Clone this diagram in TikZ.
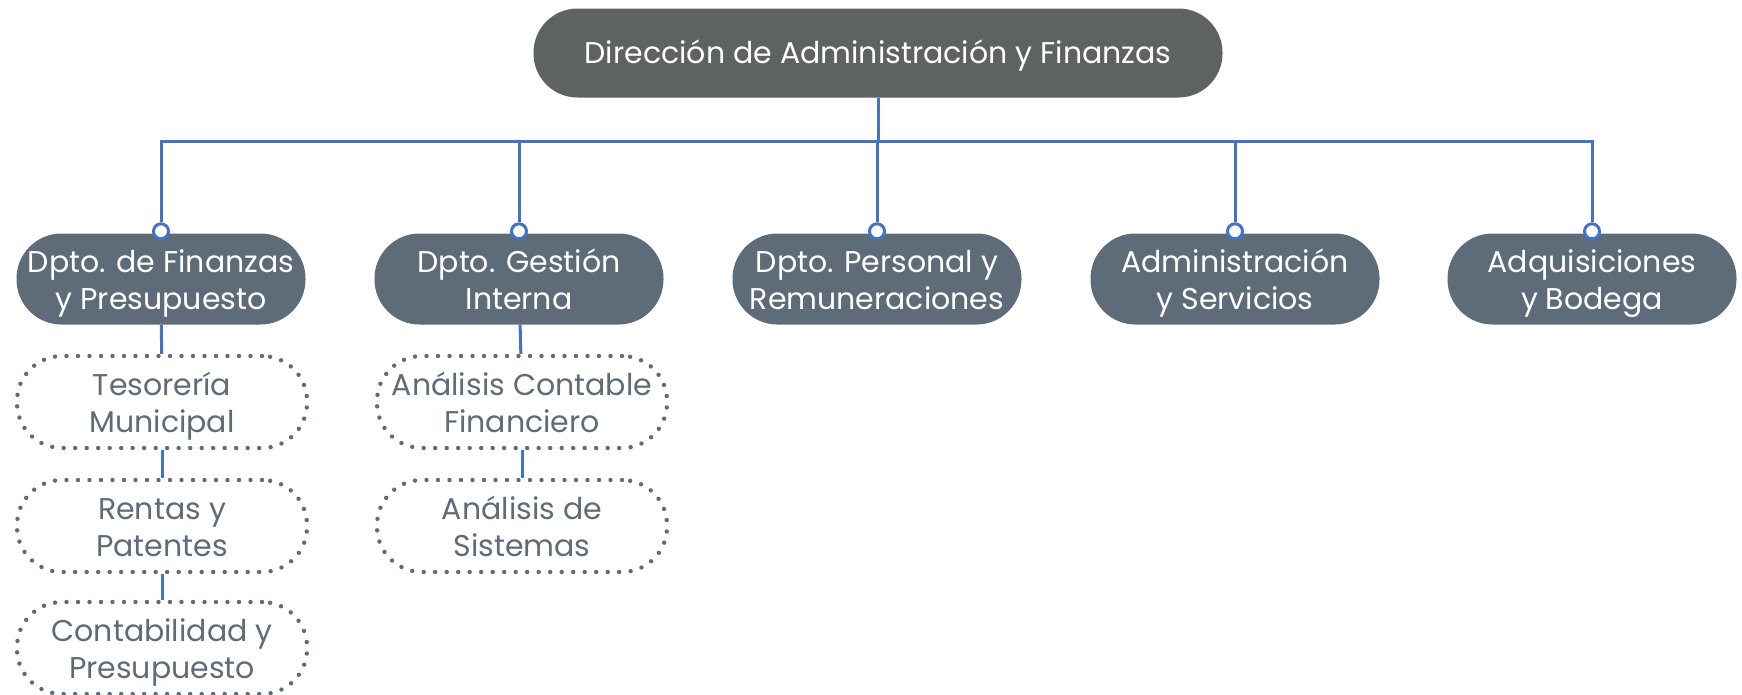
\documentclass[tikz,border=0pt]{standalone}
\usepackage{fontspec}
\setmainfont{Poppins}
\usetikzlibrary{positioning}
\definecolor{dafgray}{HTML}{5E6263}
\definecolor{dafslate}{HTML}{5E6B78}
\definecolor{dafblue}{HTML}{4472C4}

\tikzset{
  head/.style={fill=dafgray, text=white, rounded corners=44pt, minimum width=689pt, minimum height=89pt, inner sep=0pt, text height=31pt, text depth=11pt, font=\fontsize{30}{37}\selectfont},
  dept/.style={fill=dafslate, text=white, rounded corners=45pt, minimum width=289pt, minimum height=91pt, align=center, inner sep=0pt, text height=68pt, text depth=8pt, font=\fontsize{30}{37}\selectfont},
  unit/.style={draw=dafslate, line width=4.4pt, dash pattern=on 0pt off 11.5pt, line cap=round, rounded corners=45pt, minimum width=290pt, minimum height=92pt, align=center, inner sep=0pt, text height=68pt, text depth=8pt, text=dafslate, font=\fontsize{30}{37}\selectfont},
  link/.style={draw=dafblue, line width=3pt},
  knob/.style={circle, draw=dafblue, fill=white, line width=3pt, minimum size=15pt, inner sep=0pt},
}

\begin{document}
\begin{tikzpicture}[x=1pt, y=-1pt]
\useasboundingbox (0,0) rectangle (1742,694);

% Head
\node[head] (dir) at (878,53) {Dirección de Administración y Finanzas};
\coordinate (bus) at (878,141);

% Departments
\node[dept] (d1) at (161,279) {Dpto. de Finanzas\\y Presupuesto};
\node[dept] (d2) at (519,279) {Dpto. Gestión\\Interna};
\node[dept] (d3) at (877,279) {Dpto. Personal y\\Remuneraciones};
\node[dept] (d4) at (1235,279) {Administración\\y Servicios};
\node[dept] (d5) at (1592,279) {Adquisiciones\\y Bodega};

% Units
\node[unit] (u11) at (162,402) {Tesorería\\Municipal};
\node[unit] (u12) at (162,526) {Rentas y\\Patentes};
\node[unit] (u13) at (162,648) {Contabilidad y\\Presupuesto};
\node[unit] (u21) at (522,402) {Análisis Contable\\Financiero};
\node[unit] (u22) at (522,526) {Análisis de\\Sistemas};

% Knobs and links
\foreach \i in {1,...,5} {
  \node[knob] (k\i) at ([yshift=2pt]d\i.north) {};
  \draw[link] (dir.south) -- (bus) -| (k\i);
}
\draw[link] (d1) -- (u11);
\draw[link] (u11) -- (u12);
\draw[link] (u12) -- (u13);
\draw[link] (d2) -- (u21);
\draw[link] (u21) -- (u22);

\end{tikzpicture}
\end{document}
